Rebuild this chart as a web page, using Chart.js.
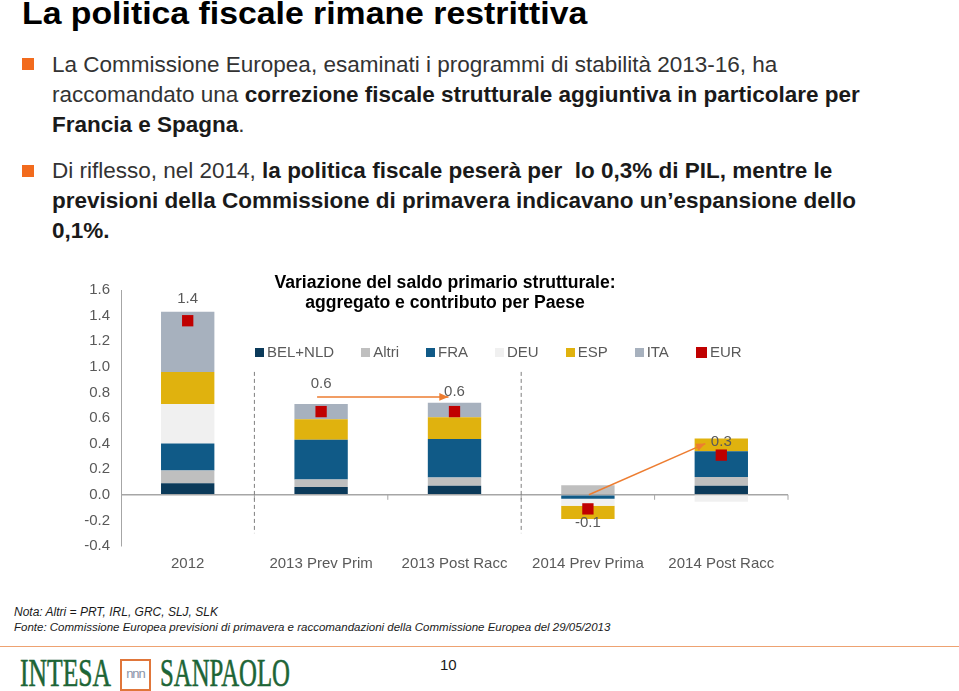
<!DOCTYPE html>
<html>
<head>
<meta charset="utf-8">
<script src="https://cdn.jsdelivr.net/npm/chart.js@4.4.0/dist/chart.umd.min.js"></script>
<style>
  body { margin:0; width:959px; height:691px; background:#fff; position:relative; overflow:hidden;
         font-family:"Liberation Sans", Arial, sans-serif; }
  .abs { position:absolute; white-space:nowrap; }
  h1 { position:absolute; left:22px; top:-3px; margin:0; font-size:31px; line-height:34px; font-weight:bold; color:#000;
       white-space:nowrap; transform:scaleX(1.09); transform-origin:left top; }
  .bullet { position:absolute; left:22px; width:12px; height:12px; background:#f26b1d; }
  .txt { position:absolute; left:52px; font-size:22.5px; line-height:30px; color:#333; white-space:nowrap; }
  .txt b { color:#1a1a1a; }
  #chartTitle { left:0; width:890px; top:272px; text-align:center; font-weight:bold; font-size:17.6px; line-height:20px; color:#000; }
  #legend { left:255px; top:343px; font-size:15px; line-height:18px; color:#595959; display:flex; }
  #legend span.item { display:flex; align-items:center; margin-right:27px; }
  #legend span.sw { display:inline-block; width:9px; height:9px; margin-right:3px; }
  .foot { position:absolute; left:14px; font-size:12px; font-style:italic; color:#1a1a1a; white-space:nowrap; }
  #rule { position:absolute; left:0; top:646px; width:959px; height:1px; background:#eea271; }
  .logo { position:absolute; top:653px; font-family:"Liberation Serif", "DejaVu Serif", serif; font-size:40px; line-height:40px;
          color:#1d6536; transform-origin:left top; white-space:nowrap; -webkit-text-stroke:0.6px #1d6536; }
  #box { position:absolute; left:120px; top:659px; width:27px; height:28px; border:2px solid #e0763a; color:#8a93a8;
         font-size:13px; line-height:26px; text-align:center; letter-spacing:-1px; }
  #chart { position:absolute; left:0; top:250px; }
</style>
</head>
<body>
<h1>La politica fiscale rimane restrittiva</h1>
<div class="bullet" style="top:58px"></div>
<div class="txt" style="top:50px">La Commissione Europea, esaminati i programmi di stabilità 2013-16, ha</div>
<div class="txt" style="top:80px">raccomandato una <b>correzione fiscale strutturale aggiuntiva in particolare per</b></div>
<div class="txt" style="top:110px"><b>Francia e Spagna</b>.</div>
<div class="bullet" style="top:165px"></div>
<div class="txt" style="top:156px">Di riflesso, nel 2014, <b>la politica fiscale peserà per&nbsp; lo 0,3% di PIL, mentre le</b></div>
<div class="txt" style="top:186px"><b>previsioni della Commissione di primavera indicavano un’espansione dello</b></div>
<div class="txt" style="top:216px"><b>0,1%.</b></div>

<canvas id="chart" width="959" height="340"></canvas>
<div id="chartTitle" class="abs">Variazione del saldo primario strutturale:<br>aggregato e contributo per Paese</div>
<div id="legend" class="abs"></div>

<div class="foot" style="top:605px">Nota: Altri = PRT, IRL, GRC, SLJ, SLK</div>
<div class="foot" style="top:621px; font-size:11.5px">Fonte: Commissione Europea previsioni di primavera e raccomandazioni della Commissione Europea del 29/05/2013</div>
<div id="rule"></div>
<div class="logo" style="left:20px; transform:scaleX(0.64)">INTESA</div>
<div id="box">nnn</div>
<div class="logo" style="left:160px; transform:scaleX(0.62)">SANPAOLO</div>
<div class="abs" style="left:440px; top:656px; font-size:15px; color:#1a1a1a">10</div>

<script>
// dati
const categories = ['2012', '2013 Prev Prim', '2013 Post Racc', '2014 Prev Prima', '2014 Post Racc'];
const belNld = [0.09, 0.06, 0.07, 0, 0.07];
const altri  = [0.10, 0.06, 0.065, 0.075, 0.07];
const fra    = [0.21, 0.31, 0.30, -0.03, 0.20];
const deu    = [0.31, 0, 0, -0.055, -0.055];
const esp    = [0.25, 0.16, 0.17, -0.105, 0.10];
const ita    = [0.47, 0.12, 0.115, 0, 0];
const eur    = [1.36, 0.65, 0.65, -0.11, 0.31];
const totalLabels = ['1.4', '0.6', '0.6', '-0.1', '0.3'];
const yMin = -0.4, yMax = 1.6, yStep = 0.2;

const seriesNames = ['BEL+NLD', 'Altri', 'FRA', 'DEU', 'ESP', 'ITA'];
const seriesData = [belNld, altri, fra, deu, esp, ita];
const colors = ['#0b3a5a', '#bfbfbf', '#105a87', '#f0f0f0', '#e0b20e', '#a7b1be'];
const eurColor = '#c00000';

// legenda html
let legendHtml = '';
seriesNames.forEach(function(n, i){
    legendHtml += '<span class="item"><span class="sw" style="background:' + colors[i] + '"></span>' + n + '</span>';
});
legendHtml += '<span class="item"><span class="sw" style="background:' + eurColor + ';width:11px;height:11px"></span>EUR</span>';
document.getElementById('legend').innerHTML = legendHtml;

let datasets = seriesData.map(function(d, i){
    return {
        type: 'bar',
        label: seriesNames[i],
        data: d,
        backgroundColor: colors[i],
        barPercentage: 0.4,
        categoryPercentage: 1,
        stack: 'paesi'
    };
});
datasets.push({
    type: 'line',
    label: 'EUR',
    data: eur,
    showLine: false,
    pointStyle: 'rect',
    pointRadius: 8,
    pointHoverRadius: 8,
    backgroundColor: eurColor,
    borderColor: eurColor,
    borderWidth: 0,
    stack: 'eur',
    order: -1
});

function arrow(ctx, x1, y1, x2, y2){
    ctx.beginPath();
    ctx.moveTo(x1, y1);
    ctx.lineTo(x2, y2);
    ctx.stroke();
    let a = Math.atan2(y2 - y1, x2 - x1);
    ctx.beginPath();
    ctx.moveTo(x2, y2);
    ctx.lineTo(x2 - 10 * Math.cos(a - 0.4), y2 - 10 * Math.sin(a - 0.4));
    ctx.lineTo(x2 - 10 * Math.cos(a + 0.4), y2 - 10 * Math.sin(a + 0.4));
    ctx.closePath();
    ctx.fill();
}

const overlay = {
    id: 'overlay',
    afterDatasetsDraw(chart){
        const ctx = chart.ctx;
        const x = chart.scales.x, y = chart.scales.y;
        const area = chart.chartArea;
        const y0 = y.getPixelForValue(0);
        ctx.save();

        // tacche sulla linea dello zero
        ctx.strokeStyle = '#a6a6a6';
        ctx.lineWidth = 1;
        for (let i = 1; i <= categories.length; i++) {
            let bx = i < categories.length ? (x.getPixelForValue(i - 1) + x.getPixelForValue(i)) / 2 : area.right;
            ctx.beginPath();
            ctx.moveTo(bx, y0);
            ctx.lineTo(bx, y0 + 5);
            ctx.stroke();
        }

        // separatori tratteggiati
        ctx.strokeStyle = '#7f7f7f';
        ctx.setLineDash([4, 3]);
        [1, 3].forEach(function(i){
            let bx = (x.getPixelForValue(i - 1) + x.getPixelForValue(i)) / 2;
            ctx.beginPath();
            ctx.moveTo(bx, y.getPixelForValue(0.96));
            ctx.lineTo(bx, y.getPixelForValue(-0.3));
            ctx.stroke();
        });
        ctx.setLineDash([]);

        // frecce
        ctx.strokeStyle = '#ed7d31';
        ctx.fillStyle = '#ed7d31';
        ctx.lineWidth = 1.5;
        arrow(ctx, x.getPixelForValue(1) - 4, y.getPixelForValue(0.765), x.getPixelForValue(2) - 6, y.getPixelForValue(0.765));
        arrow(ctx, x.getPixelForValue(3) + 1, y0, x.getPixelForValue(4) - 16, y.getPixelForValue(0.40));

        // etichette totali
        const offs = [-22, -28, -20, 14, -13];
        ctx.fillStyle = '#595959';
        ctx.font = '15px "Liberation Sans", Arial, sans-serif';
        ctx.textAlign = 'center';
        ctx.textBaseline = 'middle';
        totalLabels.forEach(function(t, i){
            ctx.fillText(t, x.getPixelForValue(i), y.getPixelForValue(eur[i]) + offs[i]);
        });
        ctx.restore();
    }
};

new Chart(document.getElementById('chart').getContext('2d'), {
    data: { labels: categories, datasets: datasets },
    options: {
        responsive: false,
        animation: false,
        layout: { padding: { left: 71, right: 171, top: 40, bottom: 14 } },
        plugins: { legend: { display: false }, tooltip: { enabled: false }, title: { display: false } },
        scales: {
            x: {
                stacked: true,
                grid: { display: false, drawTicks: false },
                border: { display: false },
                ticks: { color: '#595959', font: { size: 15, family: '"Liberation Sans", Arial, sans-serif' }, padding: 9, maxRotation: 0 },
                afterFit: function(s){ s.height = 30; }
            },
            y: {
                stacked: true,
                min: yMin,
                max: yMax,
                ticks: {
                    stepSize: yStep,
                    color: '#595959',
                    padding: 11,
                    font: { size: 15, family: '"Liberation Sans", Arial, sans-serif' },
                    callback: function(v){ return v.toFixed(1); }
                },
                grid: {
                    drawTicks: false,
                    color: function(c){ return c.tick && Math.abs(c.tick.value) < 1e-9 ? '#a6a6a6' : 'rgba(0,0,0,0)'; },
                    lineWidth: 1.5
                },
                border: { display: true, color: '#a6a6a6' },
                afterFit: function(s){ s.width = 50; }
            }
        }
    },
    plugins: [overlay]
});
</script>
</body>
</html>
